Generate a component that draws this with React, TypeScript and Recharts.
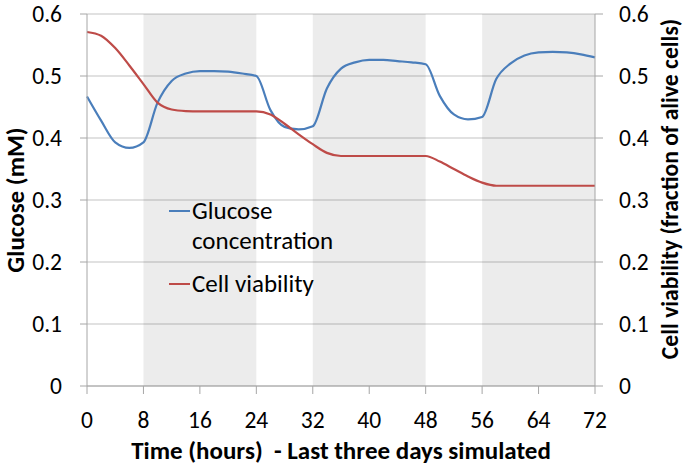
import React from "react";
import {
  ComposedChart,
  Line,
  XAxis,
  YAxis,
  CartesianGrid,
  ReferenceArea,
  Legend,
} from "recharts";

// time in hours (last three simulated days)
const hours = [
  0, 2, 4, 6, 8, 10, 12, 14, 16, 18, 20, 22, 24, 26, 28, 30, 32, 34, 36, 38,
  40, 42, 44, 46, 48, 50, 52, 54, 56, 58, 60, 62, 64, 66, 68, 70, 72,
];

const glucose = [
  0.467, 0.428, 0.393, 0.384, 0.393, 0.457, 0.492, 0.504, 0.508, 0.508, 0.507,
  0.504, 0.5, 0.445, 0.418, 0.414, 0.419, 0.48, 0.512, 0.522, 0.526, 0.526,
  0.524, 0.522, 0.519, 0.468, 0.438, 0.43, 0.434, 0.495, 0.52, 0.533, 0.538,
  0.539, 0.538, 0.535, 0.53,
];

const viability = [
  0.571, 0.565, 0.545, 0.517, 0.487, 0.457, 0.446, 0.4435, 0.443, 0.443, 0.443,
  0.443, 0.443, 0.438, 0.423, 0.406, 0.39, 0.376, 0.371, 0.371, 0.371, 0.371,
  0.371, 0.371, 0.371, 0.362, 0.35, 0.338, 0.328, 0.323, 0.323, 0.323, 0.323,
  0.323, 0.323, 0.323, 0.323,
];

const hourTicks = [0, 8, 16, 24, 32, 40, 48, 56, 64, 72];
const valueTicks = [0, 0.1, 0.2, 0.3, 0.4, 0.5, 0.6];

// shaded periods
const bandStart = [8, 32, 56];
const bandEnd = [24, 48, 72];

const seriesNames = ["Glucose concentration", "Cell viability"];
const seriesColors = ["#4a7ebb", "#be4b48"];

const data = hours.map((h, i) => ({
  hour: h,
  glucose: glucose[i],
  viability: viability[i],
}));

const FONT = "Carlito, Lato, sans-serif";
const GRID = "#c4c4c4";
const AXIS = "#a6a6a6";

const renderLegend = () => (
  <div style={{ fontFamily: FONT, fontSize: 25, color: "#000" }}>
    {seriesNames.map((name, i) => (
      <div
        key={name}
        style={{ display: "flex", alignItems: "flex-start", marginBottom: 13 }}
      >
        <div
          style={{
            width: 21,
            height: 2,
            background: seriesColors[i],
            marginTop: 14,
            marginRight: 2,
            flexShrink: 0,
          }}
        />
        <div style={{ width: 165, lineHeight: "30px", textAlign: "left" }}>
          {name}
        </div>
      </div>
    ))}
  </div>
);

const leftTitle = (props: any) => {
  const vb = props.viewBox;
  const bx = 24;
  const cy = vb.y + vb.height / 2;
  return (
    <text
      x={bx}
      y={cy}
      transform={`rotate(-90 ${bx} ${cy})`}
      textAnchor="middle"
      fontFamily={FONT}
      fontSize={25}
      fontWeight="bold"
      fill="#000"
    >
      Glucose (mM)
    </text>
  );
};

const rightTitle = (props: any) => {
  const vb = props.viewBox;
  const bx = 678;
  const cy = vb.y + vb.height / 2 - 11;
  return (
    <text
      x={bx}
      y={cy}
      transform={`rotate(-90 ${bx} ${cy})`}
      textAnchor="middle"
      fontFamily={FONT}
      fontSize={23.6}
      fontWeight="bold"
      fill="#000"
    >
      Cell viability (fraction of alive cells)
    </text>
  );
};

const bottomTitle = (props: any) => {
  const vb = props.viewBox;
  return (
    <text
      x={vb.x + vb.width / 2}
      y={459}
      textAnchor="middle"
      fontFamily={FONT}
      fontSize={25}
      fontWeight="bold"
      fill="#000"
    >
      {"Time (hours)\u00a0 - Last three days simulated"}
    </text>
  );
};

export default function App() {
  const tickStyle = { fontFamily: FONT, fontSize: 23.5, fill: "#000" };
  return (
    <div style={{ position: "absolute", left: 0, top: 0, background: "#fff" }}>
      <ComposedChart
        width={686}
        height={470}
        data={data}
        margin={{ top: 14, right: 31, bottom: 54, left: 27 }}
      >
        {bandStart.map((s, i) => (
          <ReferenceArea
            key={s}
            yAxisId="left"
            x1={s}
            x2={bandEnd[i]}
            y1={0}
            y2={0.6}
            fill="#000"
            fillOpacity={0.075}
            stroke="none"
          />
        ))}
        <CartesianGrid
          yAxisId="left"
          vertical={false}
          stroke={GRID}
          strokeWidth={1.2}
        />
        <XAxis
          dataKey="hour"
          type="number"
          domain={[0, 72]}
          ticks={hourTicks}
          interval={0}
          height={30}
          stroke={AXIS}
          tickSize={8}
          tickMargin={17}
          tick={tickStyle}
          label={{ content: bottomTitle }}
        />
        <YAxis
          yAxisId="left"
          domain={[0, 0.6]}
          ticks={valueTicks}
          interval={0}
          width={60}
          stroke={AXIS}
          tickSize={7}
          tickMargin={18}
          tick={tickStyle}
          label={{ content: leftTitle }}
        />
        <YAxis
          yAxisId="right"
          orientation="right"
          domain={[0, 0.6]}
          ticks={valueTicks}
          interval={0}
          width={60}
          stroke={AXIS}
          tickSize={8}
          tickMargin={16}
          tick={tickStyle}
          label={{ content: rightTitle }}
        />
        <Legend
          layout="vertical"
          align="center"
          verticalAlign="middle"
          content={renderLegend}
          wrapperStyle={{ left: 169, top: 196, width: 200 }}
        />
        <Line
          yAxisId="left"
          type="monotone"
          dataKey="glucose"
          name={seriesNames[0]}
          stroke={seriesColors[0]}
          strokeWidth={2.2}
          dot={false}
          isAnimationActive={false}
        />
        <Line
          yAxisId="right"
          type="monotone"
          dataKey="viability"
          name={seriesNames[1]}
          stroke={seriesColors[1]}
          strokeWidth={2.2}
          dot={false}
          isAnimationActive={false}
        />
      </ComposedChart>
    </div>
  );
}
